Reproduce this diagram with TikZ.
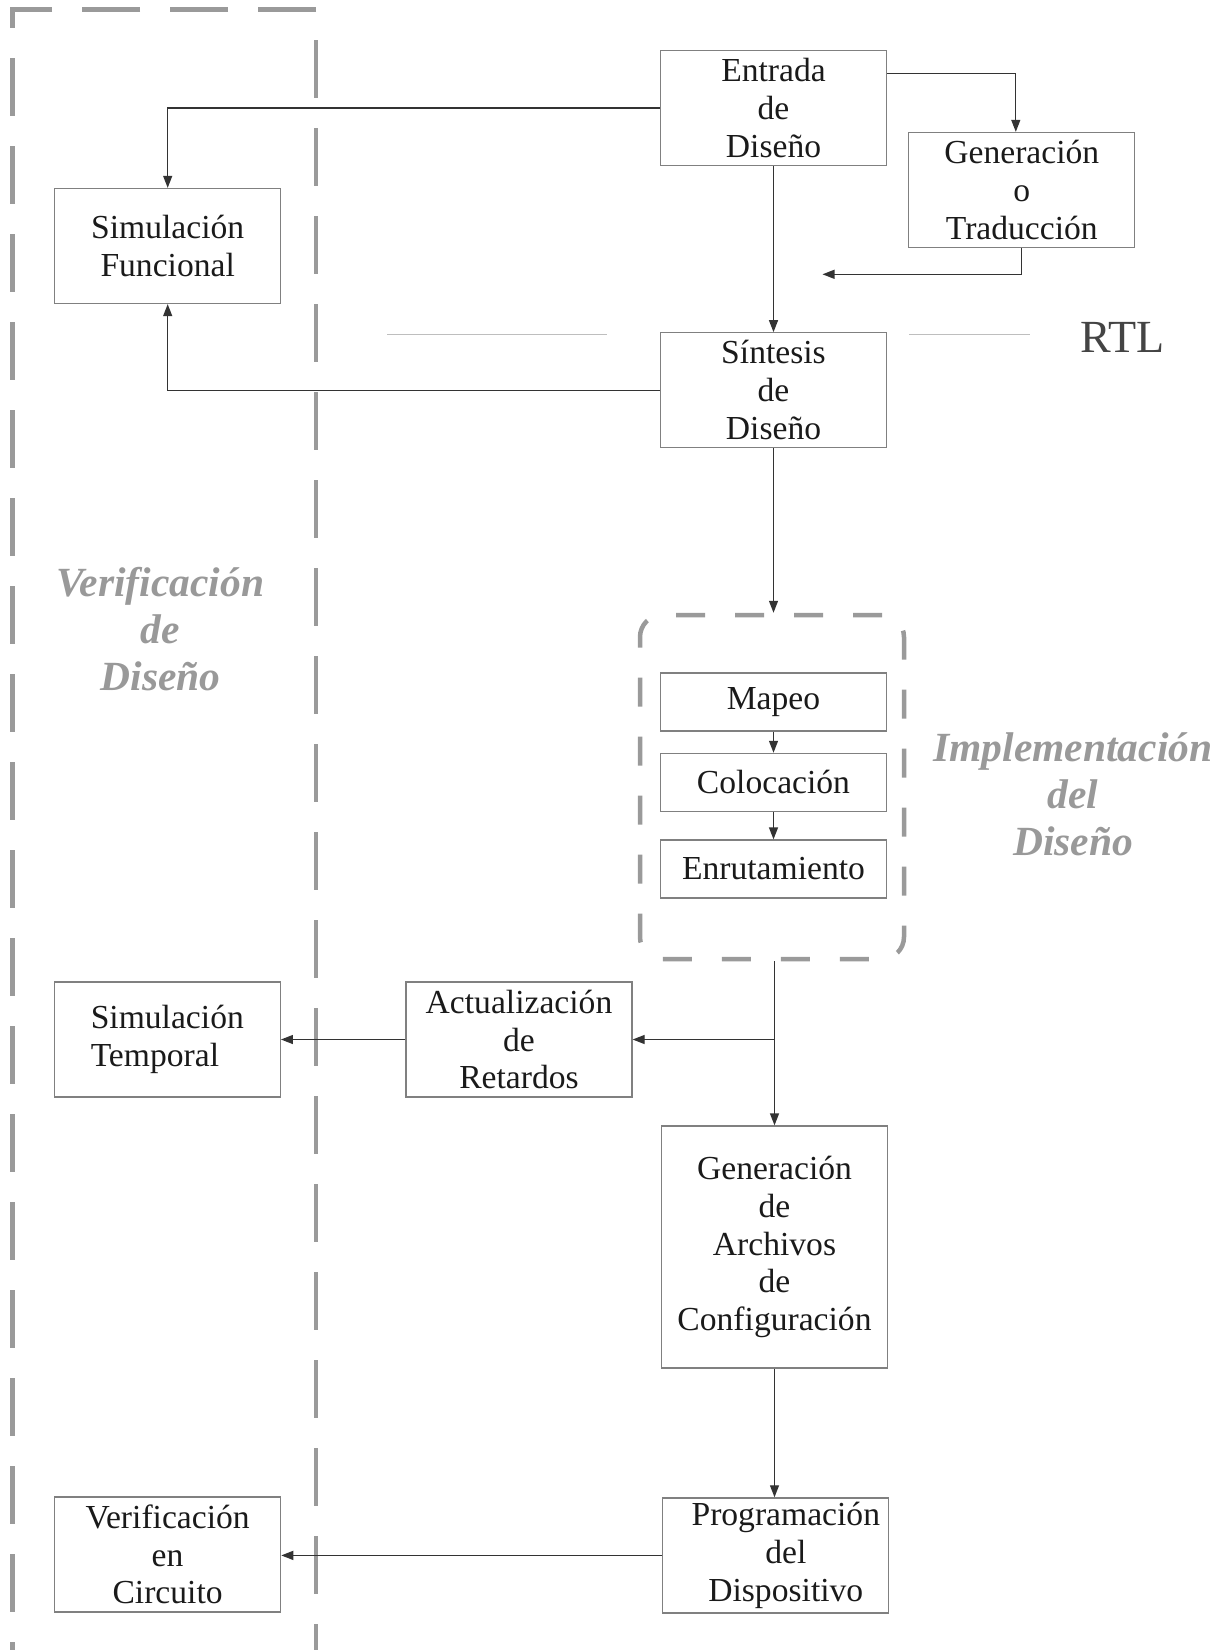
\documentclass[tikz,border=0pt]{standalone}
\usepackage{fontspec}
\setmainfont{Liberation Serif}
\usetikzlibrary{arrows.meta,calc}
\definecolor{boxline}{HTML}{808080}
\definecolor{connline}{HTML}{333333}
\definecolor{framegray}{HTML}{9A9A9A}
\definecolor{labelgray}{HTML}{999999}
\definecolor{rtlgray}{HTML}{BEBEBE}
\definecolor{rtltext}{HTML}{444444}
\definecolor{txt}{HTML}{1A1A1A}
\tikzset{
  blk/.style={draw=boxline, line width=1.3pt, inner sep=0pt, align=center,
    minimum width=226pt, minimum height=115pt, text=txt,
    font=\fontsize{33.6}{37.9}\selectfont},
  thin/.style={blk, minimum height=58pt},
  conn/.style={draw=connline, line width=1.3pt, -{Triangle[length=12pt,width=9pt]}},
  frame/.style={draw=framegray, line width=4.5pt, dash pattern=on 58pt off 30pt},
  group/.style={draw=framegray, line width=4.5pt, dash pattern=on 29pt off 30pt,
    rounded corners=22pt, inner sep=0pt, minimum width=264pt, minimum height=344pt},
  phase/.style={text=labelgray, align=center,
    font=\fontsize{41.5}{47}\selectfont\bfseries\itshape},
  rtlrule/.style={draw=rtlgray, line width=1.3pt}
}
\begin{document}
\begin{tikzpicture}[x=1pt,y=-1pt]
\useasboundingbox (0,0) rectangle (1231,1650);

% dashed boundary of the verification column
\draw[frame] (316,9.5) -- (12.5,9.5) -- (12.5,1650);
\draw[frame] (316,40) -- (316,1650);

% flow blocks
\node[blk] (ent)  at (773.5,108)   {Entrada\\de\\Diseño};
\node[blk] (gen)  at (1021.8,190)  {Generación\\o\\Traducción};
\node[blk] (sint) at (773.5,390.3) {Síntesis\\de\\Diseño};
\node[blk] (simf) at (167.7,246)   {Simulación\\Funcional};

\node[group] (impl) at (772,787) {};
\node[thin] (map) at (773.5,702)   {Mapeo};
\node[thin] (col) at (773.5,782.4) {Colocación};
\node[thin] (enr) at (773.5,869)   {Enrutamiento};

\node[blk] (act)  at (519,1039.5)  {Actualización\\de\\Retardos};
\node[blk, align=left] (simt) at (167.3,1039.5) {Simulación\\Temporal};
\node[blk, minimum height=242pt] (arch) at (774.5,1247) {Generación\\de\\Archivos\\de\\Configuración};
\node[blk] (prog) at (775.8,1555.4) {\hspace*{20pt}Programación\\\hspace*{20pt}del\\\hspace*{20pt}Dispositivo};
\node[blk] (verc) at (167.6,1554.4) {Verificación\\en\\Circuito};

% phase labels
\node[phase] (ver) at (160.5,629) {Verificación\\de\\Diseño};
\node[phase] (imp) at (1073,794) {Implementación\\del\\Diseño};

% RTL level marker
\coordinate (rl1) at (387,334.3);
\coordinate (rl2) at (607,334.3);
\coordinate (rr1) at (909,334.3);
\coordinate (rr2) at (1030,334.3);
\draw[rtlrule] (rl1) -- (rl2);
\draw[rtlrule] (rr1) -- (rr2);
\node[text=rtltext, font=\fontsize{46}{50}\selectfont, inner sep=0pt] (rtl) at (1123,337) {RTL};

% connectors
\coordinate (genret) at (822.5,274.3);
\draw[conn] (ent.west) -| (simf.north);
\draw[conn] (ent.east |- 0,73.3) -| ([xshift=-6pt]gen.north);
\draw[conn] (gen.south) |- (genret);
\draw[conn] (ent.south) -- (sint.north);
\draw[conn] (sint.west) -| (simf.south);
\draw[conn] (sint.south) -- (sint.south |- impl.north);
\draw[conn] (map.south) -- (col.north);
\draw[conn] (col.south) -- (enr.north);
\coordinate (split) at (arch.north |- act.east);
\draw[conn] (arch.north |- impl.south) -- (arch.north);
\draw[conn] (split) -- (act.east);
\draw[conn] (act.west) -- (simt.east);
\draw[conn] (arch.south) -- (arch.south |- prog.north);
\draw[conn] (prog.west) -- (prog.west -| verc.east);
\end{tikzpicture}
\end{document}
